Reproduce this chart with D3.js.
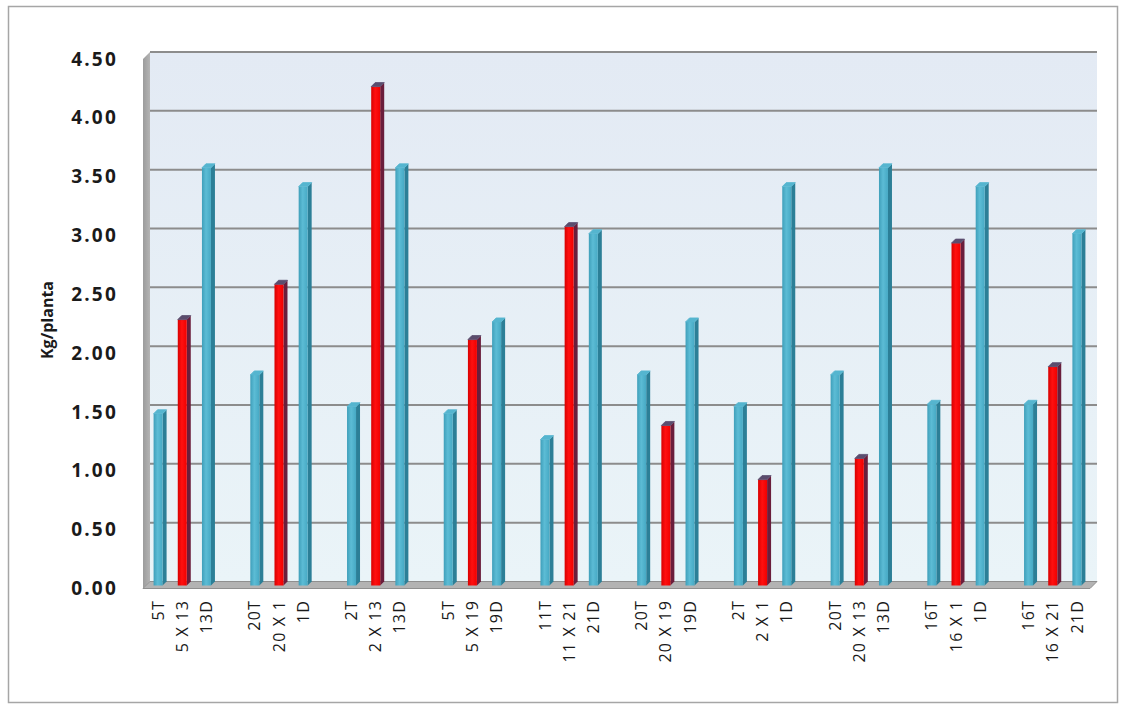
<!DOCTYPE html>
<html>
<head>
<meta charset="utf-8">
<script src="https://cdn.jsdelivr.net/npm/d3@7"></script>
<style>
  html, body { margin: 0; padding: 0; background: #ffffff; }
  svg { display: block; }
</style>
</head>
<body>
<script>
// Yield per plant (kg) for parents (T = female, D = male) and their crosses, in groups of three
const categories = [
  "5T", "5 X 13", "13D",
  "20T", "20 X 1", "1D",
  "2T", "2 X 13", "13D",
  "5T", "5 X 19", "19D",
  "11T", "11 X 21", "21D",
  "20T", "20 X 19", "19D",
  "2T", "2 X 1", "1D",
  "20T", "20 X 13", "13D",
  "16T", "16 X 1", "1D",
  "16T", "16 X 21", "21D"
];
const yieldKg = [
  1.46, 2.26, 3.55,
  1.79, 2.56, 3.39,
  1.52, 4.24, 3.55,
  1.46, 2.09, 2.24,
  1.24, 3.05, 2.99,
  1.79, 1.36, 2.24,
  1.52, 0.90, 3.39,
  1.79, 1.08, 3.55,
  1.54, 2.91, 3.39,
  1.54, 1.86, 2.99
];
const yTicks = [0, 0.5, 1, 1.5, 2, 2.5, 3, 3.5, 4, 4.5];
const yTitle = "Kg/planta";

const W = 1126, H = 709;
const svg = d3.select("body").append("svg").attr("width", W).attr("height", H);

// 3-D projection offset between the front plane and the back wall
const DX = 7, DY = 7;
const wallLeft = 150, wallRight = 1097, wallTop = 52, wallBottom = 581.5;

// Each group of three gets a blank slot after it
const slots = [];
categories.forEach((c, i) => {
  slots.push("c" + i);
  if (i % 3 === 2 && i < categories.length - 1) slots.push("gap" + i);
});
const x = d3.scaleBand().domain(slots).range([wallLeft - DX, 1086]).padding(0);
const yBack = d3.scaleLinear().domain([0, 4.5]).range([wallBottom, wallTop]);
const yFront = yBack.copy().range([wallBottom + DY, wallTop + DY]);

const defs = svg.append("defs");
const wallGrad = defs.append("linearGradient").attr("id", "wallGrad")
  .attr("x1", 0).attr("y1", 0).attr("x2", 0).attr("y2", 1);
wallGrad.append("stop").attr("offset", "0%").attr("stop-color", "#e3eaf4");
wallGrad.append("stop").attr("offset", "100%").attr("stop-color", "#eaf4f8");

const sideWallGrad = defs.append("linearGradient").attr("id", "sideWallGrad")
  .attr("x1", 0).attr("y1", 0).attr("x2", 1).attr("y2", 0);
sideWallGrad.append("stop").attr("offset", "0%").attr("stop-color", "#9c9c9c");
sideWallGrad.append("stop").attr("offset", "100%").attr("stop-color", "#b4b4b4");

function faceGrad(id, c1, c2, c3) {
  const g = defs.append("linearGradient").attr("id", id)
    .attr("x1", 0).attr("y1", 0).attr("x2", 1).attr("y2", 0);
  g.append("stop").attr("offset", "0%").attr("stop-color", c1);
  g.append("stop").attr("offset", "45%").attr("stop-color", c2);
  g.append("stop").attr("offset", "100%").attr("stop-color", c3);
}
faceGrad("tealFace", "#3f9fba", "#5cbcd5", "#46a9c4");
faceGrad("redFace", "#d80000", "#ff1010", "#f00000");

// Outer frame
svg.append("rect")
  .attr("x", 8.5).attr("y", 6.5).attr("width", 1109).attr("height", 696)
  .attr("fill", "none").attr("stroke", "#a6a6a6").attr("stroke-width", 1.5);

// Back wall
svg.append("rect")
  .attr("x", wallLeft).attr("y", wallTop)
  .attr("width", wallRight - wallLeft).attr("height", wallBottom - wallTop)
  .attr("fill", "url(#wallGrad)");

// Gridlines on the back wall
svg.append("g").selectAll("line")
  .data(yTicks.filter(t => t > 0))
  .join("line")
  .attr("x1", wallLeft).attr("x2", wallRight)
  .attr("y1", d => yBack(d)).attr("y2", d => yBack(d))
  .attr("stroke", "#8c8c8c").attr("stroke-width", 2);

// Left side wall
svg.append("path")
  .attr("d", `M${wallLeft - DX},${wallTop + DY} L${wallLeft},${wallTop} L${wallLeft},${wallBottom} L${wallLeft - DX},${wallBottom + DY} Z`)
  .attr("fill", "url(#sideWallGrad)");

// Floor
svg.append("path")
  .attr("d", `M${wallLeft},${wallBottom} L${wallRight},${wallBottom} L${wallRight - DX},${wallBottom + DY} L${wallLeft - DX},${wallBottom + DY} Z`)
  .attr("fill", "#b3b3b3").attr("stroke", "#8f8f8f").attr("stroke-width", 1);

// Columns
const FW = 9, SD = 4, MID = 3;
const bars = svg.append("g").selectAll("g")
  .data(categories.map((c, i) => ({ label: c, value: yieldKg[i], key: "c" + i, cross: c.includes(" X ") })))
  .join("g");

bars.each(function (d) {
  const g = d3.select(this);
  const cx = x(d.key) + x.bandwidth() / 2 + MID;
  const fx = cx - FW / 2;
  const top = yBack(d.value) + 4;
  const bottom = yBack(0) + 4;
  const sideCol = d.cross ? "#6a1e3c" : "#2c7f97";
  const topCol = d.cross ? "#5b4d6e" : "#55b5cf";
  g.append("path")
    .attr("d", `M${fx + FW},${top} L${fx + FW + SD},${top - SD} L${fx + FW + SD},${bottom - SD} L${fx + FW},${bottom} Z`)
    .attr("fill", sideCol);
  g.append("rect")
    .attr("x", fx).attr("y", top).attr("width", FW).attr("height", bottom - top)
    .attr("fill", d.cross ? "url(#redFace)" : "url(#tealFace)");
  g.append("path")
    .attr("d", `M${fx},${top} L${fx + SD},${top - SD} L${fx + FW + SD},${top - SD} L${fx + FW},${top} Z`)
    .attr("fill", topCol).attr("stroke", topCol).attr("stroke-width", 0.8).attr("stroke-linejoin", "round");
});

// Value axis
const yAxis = svg.append("g")
  .attr("transform", `translate(${wallLeft - DX},0)`)
  .call(d3.axisLeft(yFront).tickValues(yTicks).tickFormat(d3.format(".2f")).tickSize(0).tickPadding(25));
yAxis.select(".domain").remove();
yAxis.selectAll("text")
  .attr("font-family", "'Open Sans', sans-serif")
  .attr("font-weight", 700)
  .attr("font-size", 19)
  .attr("letter-spacing", 2.2)
  .attr("fill", "#1a1a1a");

// Category labels
svg.append("g").selectAll("text")
  .data(categories.map((c, i) => ({ label: c, key: "c" + i })))
  .join("text")
  .attr("transform", d => `translate(${x(d.key) + x.bandwidth() / 2 + MID},600) rotate(-90)`)
  .attr("text-anchor", "end")
  .attr("dy", "0.35em")
  .attr("font-family", "'Open Sans', sans-serif")
  .attr("font-size", 16)
  .attr("letter-spacing", 1.2)
  .attr("fill", "#1a1a1a")
  .text(d => d.label);

// Axis title
svg.append("text")
  .attr("transform", "translate(47,320) rotate(-90)")
  .attr("text-anchor", "middle")
  .attr("dy", "0.35em")
  .attr("font-family", "'Open Sans', sans-serif")
  .attr("font-weight", 700)
  .attr("font-size", 16)
  .attr("fill", "#1a1a1a")
  .text(yTitle);
</script>
</body>
</html>
